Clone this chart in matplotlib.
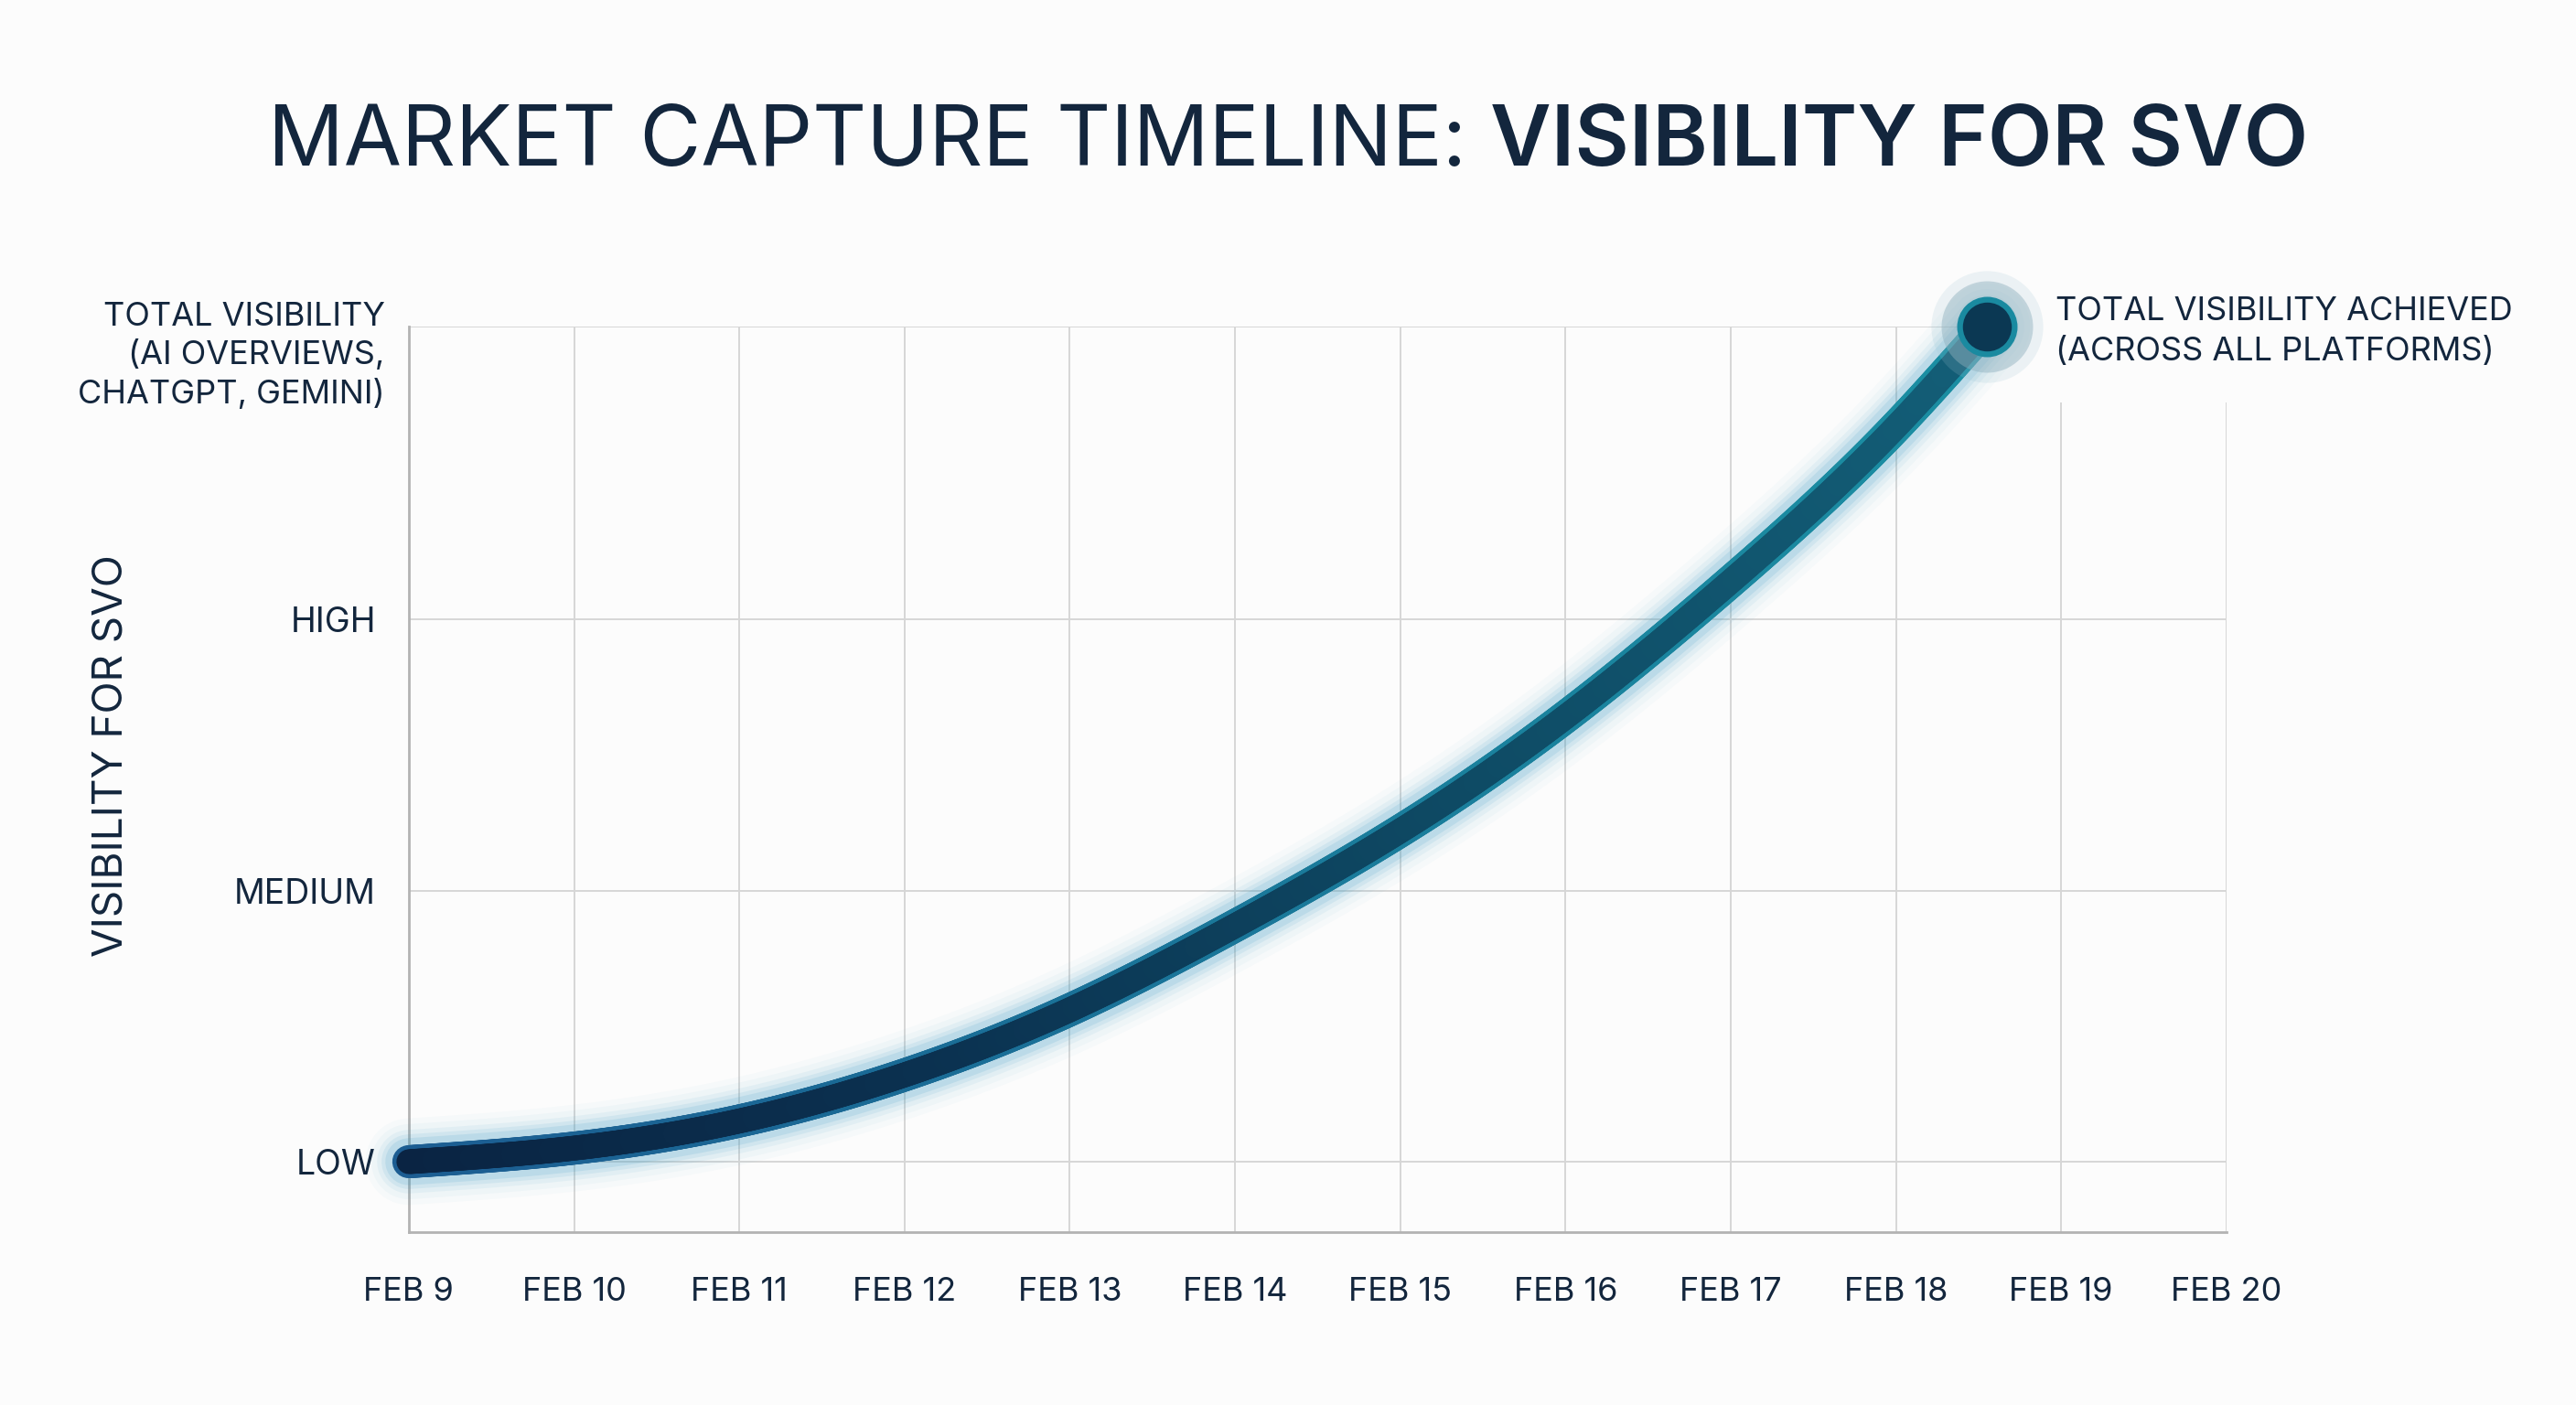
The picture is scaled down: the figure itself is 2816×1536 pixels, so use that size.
import numpy as np
import matplotlib
matplotlib.use('Agg')
import matplotlib.pyplot as plt
from matplotlib.collections import LineCollection
from matplotlib.colors import LinearSegmentedColormap

# ---------------- data ----------------
dates = [9, 10, 11, 12, 13, 14, 15, 16, 17, 18, 18.55]
visibility = [0.00, 0.05, 0.15, 0.32, 0.56, 0.87, 1.22, 1.64, 2.14, 2.71, 3.08]

x_ticks = [9, 10, 11, 12, 13, 14, 15, 16, 17, 18, 19, 20]
x_labels = ['FEB 9', 'FEB 10', 'FEB 11', 'FEB 12', 'FEB 13', 'FEB 14',
            'FEB 15', 'FEB 16', 'FEB 17', 'FEB 18', 'FEB 19', 'FEB 20']
y_ticks = [0, 1, 2, 3.08]
y_labels = ['LOW', 'MEDIUM', 'HIGH', 'TOTAL VISIBILITY\n(AI OVERVIEWS,\nCHATGPT, GEMINI)']

title_regular = 'MARKET CAPTURE TIMELINE: '
title_bold = 'VISIBILITY FOR SVO'
y_axis_label = 'VISIBILITY FOR SVO'
end_annotation = 'TOTAL VISIBILITY ACHIEVED\n(ACROSS ALL PLATFORMS)'

# ---------------- style ----------------
FONT = ['Inter', 'Lato', 'DejaVu Sans']
plt.rcParams['font.family'] = FONT
TEXT = '#13263d'
BG = '#fcfcfc'
GRID = '#d6d6d6'
SPINE = '#b3b3b3'


def natural_spline(xs, ys, n=800):
    xs = np.asarray(xs, float)
    ys = np.asarray(ys, float)
    k = len(xs)
    h = np.diff(xs)
    d = np.diff(ys) / h
    A = np.zeros((k, k))
    r = np.zeros(k)
    A[0, 0] = 1.0
    A[-1, -1] = 1.0
    for i in range(1, k - 1):
        A[i, i - 1] = h[i - 1]
        A[i, i] = 2 * (h[i - 1] + h[i])
        A[i, i + 1] = h[i]
        r[i] = 6 * (d[i] - d[i - 1])
    M = np.linalg.solve(A, r)
    xx = np.linspace(xs[0], xs[-1], n)
    idx = np.clip(np.searchsorted(xs, xx) - 1, 0, k - 2)
    x0, x1 = xs[idx], xs[idx + 1]
    hh = h[idx]
    yy = (M[idx] * (x1 - xx) ** 3 / (6 * hh) + M[idx + 1] * (xx - x0) ** 3 / (6 * hh)
          + (ys[idx] / hh - M[idx] * hh / 6) * (x1 - xx)
          + (ys[idx + 1] / hh - M[idx + 1] * hh / 6) * (xx - x0))
    return xx, yy


fig = plt.figure(figsize=(28.16, 15.36), dpi=100, facecolor=BG)
ax = fig.add_axes([0.1587, 0.1230, 0.7056, 0.6446], facecolor=BG)

ymin, ymax = -0.26, y_ticks[-1]
ax.set_xlim(x_ticks[0], x_ticks[-1])
ax.set_ylim(ymin, ymax)

# grid
clear_top = 2.80  # verticals stop below the end annotation
for xv in x_ticks[1:]:
    top = ymax if xv <= dates[-1] else clear_top
    ax.vlines(xv, ymin, top, color=GRID, lw=1.4, zorder=1)
for yv in y_ticks[:-1]:
    ax.hlines(yv, x_ticks[0], x_ticks[-1], color=GRID, lw=1.4, zorder=1)
ax.hlines(y_ticks[-1], x_ticks[0], dates[-1], color=GRID, lw=1.4, zorder=1)

for s in ['top', 'right']:
    ax.spines[s].set_visible(False)
for s in ['left', 'bottom']:
    ax.spines[s].set_color(SPINE)
    ax.spines[s].set_linewidth(2.0)

ax.set_xticks(x_ticks)
ax.set_xticklabels(x_labels)
ax.set_yticks(y_ticks[:-1])
ax.set_yticklabels(y_labels[:-1])
ax.tick_params(axis='both', length=0, colors=TEXT)
ax.tick_params(axis='x', pad=35, labelsize=26)
ax.tick_params(axis='y', pad=26, labelsize=27)

# total label (multi-line) next to the top level
ax.annotate(y_labels[-1], xy=(0, y_ticks[-1]), xycoords=('axes fraction', 'data'),
            xytext=(-19, -23), textcoords='offset points', ha='right', va='center',
            multialignment='right', fontsize=26, color=TEXT, linespacing=1.3)

# curve
xx, yy = natural_spline(dates, visibility)
# glow
for lw, a in [(68, 0.03), (59, 0.045), (50, 0.07), (43, 0.10), (37, 0.14)]:
    ax.plot(xx, yy, color='#3f9dc4', lw=lw, alpha=a, solid_capstyle='round',
            zorder=3, clip_on=False)

pts = np.column_stack([xx, yy]).reshape(-1, 1, 2)
segs = np.concatenate([pts[:-1], pts[1:]], axis=1)
tparam = np.linspace(0, 1, len(segs))
edge_cmap = LinearSegmentedColormap.from_list('edge', ['#1c5d92', '#1a6c96', '#1a7f9c', '#1b8fa3'])
core_cmap = LinearSegmentedColormap.from_list('core', ['#0a2443', '#0b3150', '#0e4a64', '#135e77'])
lc_edge = LineCollection(segs, colors=edge_cmap(tparam), linewidths=26,
                         capstyle='round', joinstyle='round', zorder=4, clip_on=False)
lc_core = LineCollection(segs, colors=core_cmap(tparam), linewidths=19.5,
                         capstyle='round', joinstyle='round', zorder=5, clip_on=False)
ax.add_collection(lc_edge)
ax.add_collection(lc_core)

# end marker
ax.plot(dates[-1], visibility[-1], 'o', ms=88, color='#9ec4d2', alpha=0.18, mew=0, zorder=6, clip_on=False)
ax.plot(dates[-1], visibility[-1], 'o', ms=72, color='#8fb0bd', alpha=0.45, mew=0, zorder=6, clip_on=False)
ax.plot(dates[-1], visibility[-1], 'o', ms=43, mfc='#0b3853', mec='#1a8aa0', mew=4.5, zorder=7, clip_on=False)

ax.annotate(end_annotation, xy=(dates[-1], visibility[-1]), xytext=(54, -4),
            textcoords='offset points', ha='left', va='center', fontsize=26,
            color=TEXT, linespacing=1.45)

# y axis title
fig.text(122 / 2816, 1 - 826 / 1536, y_axis_label, rotation=90, ha='center', va='center',
         fontsize=33, color=TEXT)

# title in two weights
fig.canvas.draw()
renderer = fig.canvas.get_renderer()
t1 = fig.text(0, 1 - 181 / 1536, title_regular.strip(), fontsize=66, color=TEXT,
              ha='left', va='baseline', fontweight='normal')
t2 = fig.text(0, 1 - 181 / 1536, title_bold, fontsize=66, color=TEXT,
              ha='left', va='baseline', fontweight='semibold')
probe = fig.text(0, 0, 'A A', fontsize=66)
probe2 = fig.text(0, 0, 'AA', fontsize=66)
sp = probe.get_window_extent(renderer).width - probe2.get_window_extent(renderer).width
probe.remove()
probe2.remove()
w1 = t1.get_window_extent(renderer).width
w2 = t2.get_window_extent(renderer).width
W = fig.get_figwidth() * fig.dpi
total = w1 + sp + w2
x0 = (W / 2 - total / 2)
t1.set_x(x0 / W)
t2.set_x((x0 + w1 + sp) / W)

fig.savefig('out.png', dpi=100, facecolor=BG)
